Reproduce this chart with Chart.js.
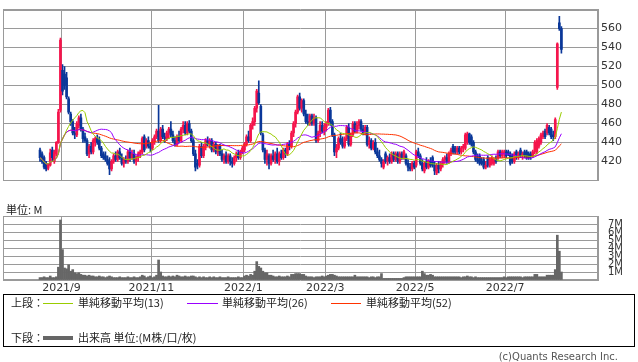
<!DOCTYPE html>
<html>
<head>
<meta charset="utf-8">
<script src="https://cdn.jsdelivr.net/npm/chart.js@4.4.1/dist/chart.umd.min.js"></script>
<style>
  body { margin: 0; background: #fff; width: 638px; height: 362px; position: relative; overflow: hidden; }
  canvas { position: absolute; left: 0; }
  #price { top: 0; }
  #vol { top: 200px; }
  .t { position: absolute; font-size: 11px; color: #222; white-space: nowrap; line-height: 11px;
       font-family: "Noto Sans CJK JP", "DejaVu Sans", sans-serif; }
  .ln { position: absolute; height: 0; border-top: 1px solid; }
  #box { position: absolute; left: 3px; top: 294px; width: 630px; height: 51px; border: 1px solid #000; }
  #copy { position: absolute; right: 20px; top: 351px; font: 10px "DejaVu Sans", sans-serif; color: #555; }
</style>
</head>
<body>
<canvas id="price" width="638" height="190"></canvas>
<canvas id="vol" width="638" height="96"></canvas>
<div class="t" style="left:6px;top:204px">単位: M</div>
<div id="box"></div>
<div class="t" style="left:11px;top:297px">上段：</div>
<div class="ln" style="left:43px;top:303px;width:30px;border-color:#99cc00"></div>
<div class="t" style="left:78px;top:297px">単純移動平均(13)</div>
<div class="ln" style="left:187px;top:303px;width:31px;border-color:#9900ff"></div>
<div class="t" style="left:222px;top:297px">単純移動平均(26)</div>
<div class="ln" style="left:331px;top:303px;width:30px;border-color:#ff3300"></div>
<div class="t" style="left:366px;top:297px">単純移動平均(52)</div>
<div class="t" style="left:11px;top:332px">下段：</div>
<div class="ln" style="left:43px;top:336px;width:30px;border-top:4px solid #666"></div>
<div class="t" style="left:78px;top:332px">出来高 単位:(M株/口/枚)</div>
<div id="copy">(c)Quants Research Inc.</div>
<script>
// month labels and the bar index where each month starts
const monthLabels = ['2021/9', '2021/11', '2022/1', '2022/3', '2022/5', '2022/7'];
const monthStart = [11, 55, 100, 140, 184, 228];

const priceTicks = [420, 440, 460, 480, 500, 520, 540, 560];
const volTicks = [1, 2, 3, 4, 5, 6, 7];

const open = [432,428,424,418,413,416,432,420,428,440,474,516,512,508,486,470,462,450,448,458,
  466,454,446,442,428,436,430,440,444,442,434,428,426,422,420,412,420,426,422,430,
  424,418,422,420,430,424,428,420,424,428,430,446,436,442,436,434,442,446,452,442,
  454,446,444,450,454,448,442,438,446,442,454,458,450,460,452,442,428,418,416,436,
  426,436,442,438,442,432,438,430,436,428,422,426,420,426,420,418,424,428,424,430,
  432,438,446,442,458,462,476,492,478,448,432,422,426,418,426,422,428,420,428,424,
  432,428,438,436,450,460,472,488,476,484,470,462,460,468,460,466,442,450,458,452,
  456,460,474,462,448,430,434,444,440,436,444,456,438,448,460,452,458,462,454,450,
  456,438,442,434,440,430,426,422,414,428,420,424,420,428,422,428,420,428,424,426,
  418,414,412,418,416,430,426,418,410,420,414,420,424,416,408,416,412,418,422,424,
  420,428,436,434,430,434,430,434,434,440,449,446,440,430,422,426,420,422,414,424,
  416,418,418,422,424,430,426,428,430,430,428,426,420,430,424,432,426,430,430,428,
  428,426,430,430,436,440,446,452,450,456,454,448,446,498,566,560];
const high = [434,430,426,420,418,433,435,432,441,475,550,522,520,514,488,472,464,456,462,468,
  470,456,450,444,438,440,444,446,448,446,436,430,430,426,424,422,428,430,432,434,
  428,424,426,432,434,432,432,426,430,432,446,448,444,446,440,444,448,454,479,456,
  458,450,452,456,462,452,446,448,452,456,462,462,462,463,454,444,432,422,438,440,
  438,444,446,444,444,440,440,438,438,432,428,430,428,428,424,426,430,432,432,436,
  440,448,452,460,466,478,496,505,480,450,434,432,428,428,432,430,434,430,432,434,
  434,440,442,452,462,474,490,492,486,486,474,470,470,470,470,468,452,462,462,460,
  462,476,477,464,450,438,446,450,446,446,458,460,450,462,462,462,464,464,458,458,
  458,446,444,442,444,434,432,424,422,430,426,428,430,430,430,430,430,430,432,428,
  422,418,420,420,432,434,428,422,420,424,422,424,426,420,418,420,420,424,426,428,
  430,434,438,436,436,436,436,438,450,451,450,448,442,432,428,428,424,424,420,426,
  424,426,424,426,432,432,432,432,432,432,430,428,430,432,430,434,430,432,432,430,
  430,432,442,444,446,450,452,454,460,458,456,452,466,545,573,562];
const low = [420,418,412,410,411,415,420,418,426,439,472,490,496,486,470,458,448,444,446,455,
  452,440,440,426,424,428,428,436,438,432,424,422,420,416,406,410,418,420,420,422,
  416,414,418,418,420,422,418,416,420,424,428,430,434,434,430,432,438,444,440,440,
  444,440,442,444,446,440,436,436,440,440,450,448,448,450,440,426,410,412,414,424,
  424,432,436,434,430,430,428,426,426,420,418,418,418,416,414,416,420,422,422,428,
  430,436,440,440,454,458,472,480,448,430,418,416,412,416,420,418,418,416,422,422,
  424,426,432,434,446,456,470,474,472,468,460,458,458,458,458,440,440,446,450,448,
  452,458,458,446,426,424,432,438,434,434,442,436,436,446,450,450,454,452,448,448,
  436,434,432,432,428,424,420,414,412,418,416,418,418,420,420,418,418,422,422,416,
  410,410,410,412,414,424,416,410,408,412,412,414,414,406,406,408,410,414,418,418,
  418,426,428,428,428,428,428,430,432,438,438,436,428,420,418,416,416,412,412,414,
  414,416,416,418,422,424,424,424,424,426,416,418,418,422,422,424,422,424,422,422,
  422,424,428,428,434,438,444,444,448,448,444,442,444,496,558,534];
const close = [424,420,414,412,417,429,424,430,440,472,548,494,500,488,472,462,450,448,460,466,
  454,444,442,428,436,430,442,444,440,434,426,424,422,418,412,420,426,422,430,424,
  418,422,420,430,424,428,420,424,428,430,444,432,442,436,434,442,446,452,442,454,
  446,444,450,454,448,442,438,446,442,454,458,450,460,452,442,428,414,416,436,426,
  436,442,438,442,432,438,430,436,428,422,426,420,426,420,418,424,428,424,430,434,
  438,446,442,458,462,476,494,482,450,432,422,428,418,426,422,428,420,428,424,432,
  428,438,436,450,460,472,488,476,484,470,462,460,468,460,466,442,450,458,452,456,
  460,474,462,448,430,434,444,440,436,444,456,438,448,460,452,458,462,454,450,456,
  438,442,434,440,430,426,422,418,420,420,424,420,428,422,428,420,428,424,430,418,
  414,412,418,414,430,426,418,412,418,414,420,416,416,410,416,412,418,422,424,420,
  428,432,430,430,434,430,434,436,448,449,440,438,430,422,420,418,418,414,416,416,
  422,424,422,420,430,426,430,430,426,428,418,420,428,424,428,426,428,426,424,424,
  426,430,440,442,444,448,450,446,458,450,446,446,464,544,560,538];
const volume = [0.3,0.3,0.4,0.3,0.3,0.5,0.3,0.3,0.4,1.6,7.5,3.8,1.5,1.4,1.9,1.1,1.3,0.9,0.8,0.9,
  0.7,0.6,0.6,0.5,0.6,0.5,0.5,0.4,0.4,0.5,0.4,0.4,0.3,0.4,0.5,0.4,0.3,0.3,0.3,0.4,
  0.3,0.3,0.3,0.4,0.3,0.3,0.4,0.3,0.3,0.4,0.6,0.5,0.3,0.4,0.5,0.3,0.4,0.6,2.5,1.0,
  0.5,0.4,0.4,0.5,0.4,0.5,0.4,0.6,0.5,0.4,0.4,0.5,0.4,0.4,0.5,0.5,0.4,0.3,0.4,0.3,
  0.4,0.3,0.3,0.4,0.3,0.4,0.3,0.3,0.4,0.3,0.3,0.3,0.4,0.3,0.3,0.3,0.3,0.4,0.3,0.3,
  0.5,0.6,0.5,0.7,0.6,1.1,2.3,1.7,1.5,1.1,0.9,0.9,0.6,0.6,0.5,0.4,0.4,0.5,0.4,0.4,
  0.4,0.5,0.4,0.7,0.7,0.8,0.8,0.8,0.7,0.7,0.5,0.4,0.4,0.4,0.3,0.4,0.4,0.4,0.5,0.4,
  0.5,0.6,0.7,0.7,0.6,0.5,0.4,0.4,0.4,0.4,0.4,0.4,0.4,0.4,0.6,0.4,0.4,0.4,0.4,0.4,
  0.4,0.3,0.4,0.4,0.3,0.4,0.4,0.8,0.2,0.2,0.2,0.2,0.2,0.2,0.2,0.2,0.2,0.2,0.3,0.4,
  0.4,0.4,0.4,0.4,0.4,0.4,0.4,1.1,0.8,0.6,0.6,0.7,0.6,0.4,0.4,0.4,0.4,0.4,0.4,0.4,
  0.4,0.4,0.4,0.4,0.4,0.4,0.3,0.4,0.4,0.5,0.4,0.4,0.3,0.4,0.3,0.3,0.3,0.3,0.3,0.3,
  0.3,0.3,0.3,0.3,0.3,0.3,0.3,0.4,0.3,0.4,0.4,0.4,0.4,0.4,0.4,0.4,0.3,0.4,0.4,0.4,
  0.4,0.4,0.7,0.7,0.4,0.4,0.4,0.4,0.6,0.6,0.6,0.6,1.3,5.6,3.6,1.0];

const UP = '#f5144c';
const DOWN = '#0a3799';
const GRID = '#9a9a9a';

function sma(n) {
  return close.map((c, i) => {
    const part = close.slice(Math.max(0, i - n + 1), i + 1);
    return { x: i, y: part.reduce((a, b) => a + b, 0) / part.length };
  });
}
const candleColor = ctx => close[ctx.dataIndex] >= open[ctx.dataIndex] ? UP : DOWN;

const frame = {
  id: 'frame',
  beforeDatasetsDraw(chart) {
    const a = chart.chartArea, g = chart.ctx;
    g.save();
    g.strokeStyle = GRID;
    g.lineWidth = 1;
    g.strokeRect(Math.round(a.left) + 0.5, Math.round(a.top) + 0.5,
      Math.round(a.right - a.left) - 1, Math.round(a.bottom - a.top) - 1);
    g.restore();
  }
};

function xScale(showLabels) {
  return {
    type: 'linear', min: -18.1, max: 272.9, offset: false,
    afterBuildTicks: s => { s.ticks = monthStart.map(v => ({ value: v - 0.5 })); },
    afterFit: s => { s.height = showLabels ? 15 : 0; },
    grid: { color: GRID, drawTicks: false, offset: false },
    border: { display: false },
    ticks: {
      display: showLabels, autoSkip: false, maxRotation: 0, padding: 2, color: '#333',
      font: { family: 'DejaVu Sans', size: 11 },
      callback: (v, i) => monthLabels[i]
    }
  };
}

const common = {
  responsive: false, animation: false,
  plugins: { legend: { display: false }, tooltip: { enabled: false } }
};

new Chart(document.getElementById('price'), {
  type: 'bar',
  data: {
    datasets: [
      { type: 'line', data: sma(13), borderColor: '#99cc00', borderWidth: 1, pointRadius: 0, order: 0 },
      { type: 'line', data: sma(26), borderColor: '#9900ff', borderWidth: 1, pointRadius: 0, order: 0 },
      { type: 'line', data: sma(52), borderColor: '#ff3300', borderWidth: 1, pointRadius: 0, order: 0 },
      { data: close.map((c, i) => ({ x: i, y: [low[i], high[i]] })),
        backgroundColor: candleColor, barThickness: 1, grouped: false, order: 2 },
      { data: close.map((c, i) => ({ x: i, y: c === open[i] ? [c - 0.5, c + 0.5] : [open[i], c] })),
        backgroundColor: candleColor, barThickness: 2, grouped: false, order: 1 }
    ]
  },
  options: {
    ...common,
    layout: { padding: { left: 3, top: 0, right: 0, bottom: 0 } },
    scales: {
      x: xScale(false),
      y: {
        position: 'right', min: 400, max: 580,
        afterFit: s => { s.width = 40; },
        grid: { color: GRID, drawTicks: false },
        border: { color: GRID },
        ticks: {
          stepSize: 20, autoSkip: false, padding: 3, color: '#333',
          font: { family: 'DejaVu Sans', size: 11 },
          callback: v => priceTicks.includes(v) ? String(v) : ''
        }
      }
    }
  },
  plugins: [frame]
});

new Chart(document.getElementById('vol'), {
  type: 'bar',
  data: {
    datasets: [
      { data: volume.map((v, i) => ({ x: i, y: v })), backgroundColor: '#666666',
        barThickness: 2, grouped: false }
    ]
  },
  options: {
    ...common,
    layout: { padding: { left: 3, top: 1, right: 0, bottom: 0 } },
    scales: {
      x: xScale(true),
      y: {
        position: 'right', min: 0, max: 8,
        afterFit: s => { s.width = 40; },
        grid: { color: GRID, drawTicks: false },
        border: { color: GRID },
        ticks: {
          stepSize: 1, autoSkip: false, padding: 10, color: '#333',
          font: { family: 'DejaVu Sans', size: 10 },
          callback: v => volTicks.includes(v) ? v + 'M' : ''
        }
      }
    }
  },
  plugins: [frame]
});
</script>
</body>
</html>
